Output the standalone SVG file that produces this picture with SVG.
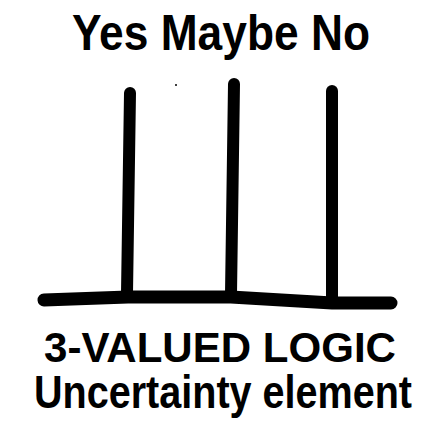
<svg xmlns="http://www.w3.org/2000/svg" width="434" height="432" viewBox="0 0 434 432">
<style>
.t{font-family:"Liberation Sans",Arial,sans-serif;font-weight:bold;fill:#000}
.ln{stroke:#000;stroke-linecap:round;fill:none}
</style>
<rect width="434" height="432" fill="#fff"/>
<g id="labels-top">
<text class="t" x="72" y="50" font-size="50" textLength="298" lengthAdjust="spacingAndGlyphs">Yes  Maybe No</text>
</g>
<g id="lines">
<path class="ln" stroke-width="13" d="M44,300 L128,297 L231,297 L332,303 L391,303"/>
<path class="ln" stroke-width="12" d="M130,93 L127,293"/>
<path class="ln" stroke-width="12" d="M234,84 L231,294"/>
<path class="ln" stroke-width="12" d="M332,91 L332,297"/>
<circle cx="176" cy="85" r="1" fill="#000"/>
</g>
<g id="labels-bottom">
<text class="t" x="44" y="362" font-size="42" textLength="352" lengthAdjust="spacingAndGlyphs">3-VALUED LOGIC</text>
<text class="t" transform="translate(34,408) scale(1,1.15)" x="0" y="0" font-size="40" textLength="378" lengthAdjust="spacingAndGlyphs">Uncertainty element</text>
</g>
</svg>
